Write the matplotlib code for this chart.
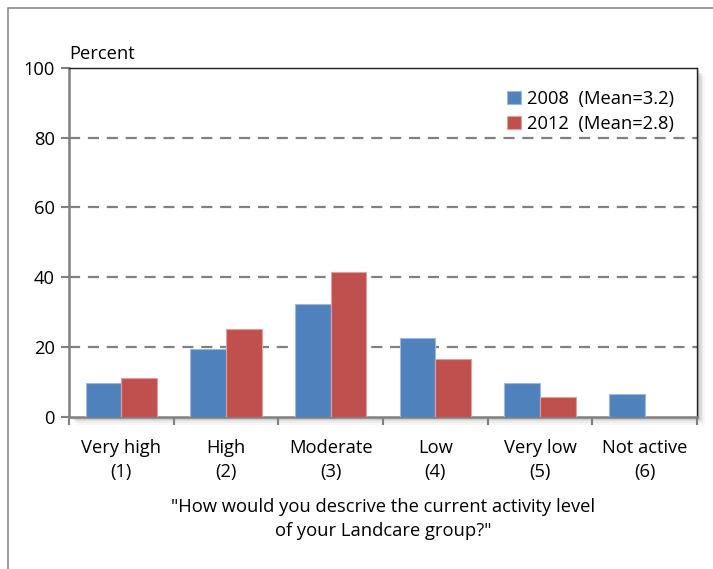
import matplotlib
matplotlib.use("Agg")
import matplotlib.pyplot as plt
import numpy as np
from matplotlib.patches import Rectangle

categories = ["Very high\n(1)", "High\n(2)", "Moderate\n(3)", "Low\n(4)", "Very low\n(5)", "Not active\n(6)"]
values_2008 = [9.5, 19.3, 32.2, 22.4, 9.6, 6.4]
values_2012 = [11.0, 25.0, 41.5, 16.5, 5.5, 0.0]
labels = ["2008  (Mean=3.2)", "2012  (Mean=2.8)"]
yticks = [0, 20, 40, 60, 80, 100]

plt.rcParams['font.family'] = ['Open Sans', 'DejaVu Sans']
FS = 13.2
W, H = 713, 569
fig = plt.figure(figsize=(W/100, H/100), dpi=100)

# figure border (gray, left and top visible)
fig.patches.append(Rectangle((8/W, -0.1), 1.2, (H-8)/H + 0.1, transform=fig.transFigure,
                             fill=False, edgecolor="#8c8c8c", linewidth=1.2))

left, right, top, bottom = 69/W, 697/W, (H-68)/H, (H-416.5)/H
# shadow
for i, a in enumerate([0.10, 0.08, 0.06, 0.04, 0.03]):
    off = (i + 1) * 1.6
    fig.patches.append(Rectangle((left + off/W, bottom - off/H), right - left, top - bottom,
                                 transform=fig.transFigure, facecolor="black", alpha=a,
                                 edgecolor="none", zorder=0))

ax = fig.add_axes([left, bottom, right - left, top - bottom])
ax.set_zorder(1)
ax.set_facecolor("white")

x = np.arange(len(categories))
w = 0.34
ax.bar(x - w/2, values_2008, w, color="#4F81BD", edgecolor="#9db8dc", linewidth=0.8, label=labels[0], zorder=3)
ax.bar(x + w/2, values_2012, w, color="#C0504D", edgecolor="#e0a09e", linewidth=0.8, label=labels[1], zorder=3)

ax.set_xlim(-0.5, len(categories) - 0.5)
ax.set_ylim(0, 100)
ax.set_yticks(yticks)
ax.set_yticklabels([str(v) for v in yticks], fontsize=FS)
for v in yticks[1:-1]:
    ax.axhline(v, color="#808080", linestyle=(0, (5, 3.5)), linewidth=1.6, zorder=1)

ax.set_xticks(np.arange(len(categories) + 1) - 0.5, minor=False)
ax.set_xticklabels([""] * (len(categories) + 1))
ax.set_xticks(x, minor=True)
ax.set_xticklabels(categories, minor=True, fontsize=FS, linespacing=1.45)
ax.tick_params(axis="x", which="minor", length=0, pad=16)
ax.tick_params(axis="x", which="major", length=6, color="#808080", width=1.5)
ax.tick_params(axis="y", length=6, color="#808080", width=1.5, pad=4)

for s in ["left", "bottom"]:
    ax.spines[s].set_color("#808080")
    ax.spines[s].set_linewidth(1.8)
for s in ["top", "right"]:
    ax.spines[s].set_color("#202020")
    ax.spines[s].set_linewidth(1.0)

ax.text(0, 1.015, "Percent", transform=ax.transAxes, fontsize=FS, ha="left", va="bottom")

ax.set_xlabel('"How would you descrive the current activity level\nof your Landcare group?"',
              fontsize=FS, labelpad=12, linespacing=1.45)

leg = ax.legend(loc="upper right", bbox_to_anchor=(0.99, 0.985), frameon=False, fontsize=FS,
                handlelength=0.75, handleheight=0.75, handletextpad=0.35, labelspacing=0.4)

fig.savefig("out.png", dpi=100)
